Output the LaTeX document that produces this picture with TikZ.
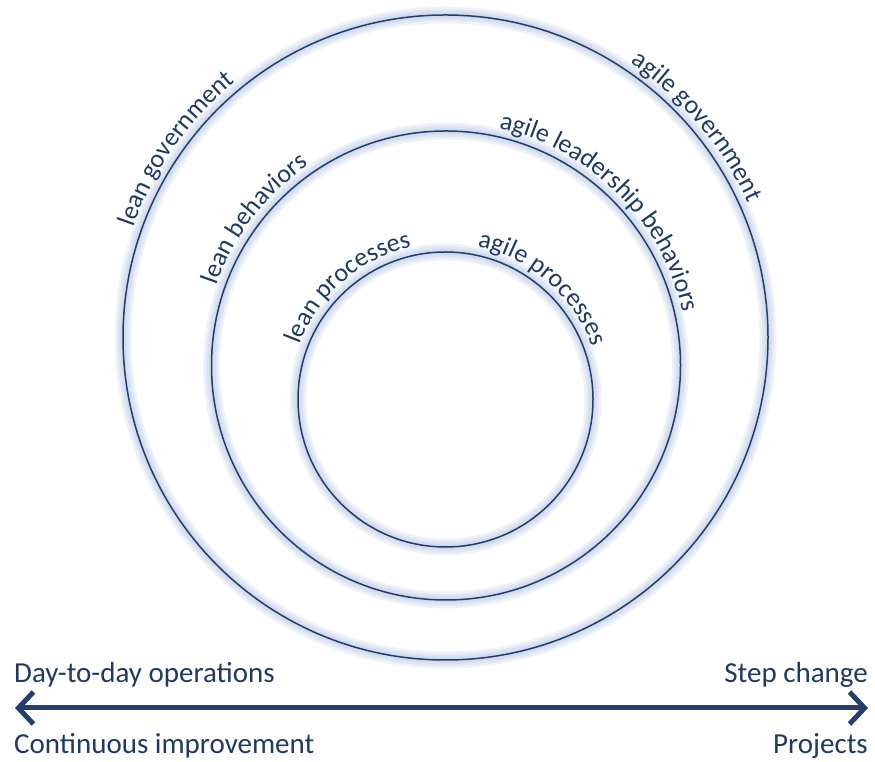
\documentclass[tikz,border=0pt]{standalone}
\usepackage{fontspec}
\setmainfont{Carlito}
\usetikzlibrary{decorations.text,arrows.meta}
\definecolor{ringblue}{RGB}{36,62,110}
\definecolor{textblue}{RGB}{31,56,100}
\definecolor{glowblue}{RGB}{165,186,220}
\newcommand\arcfont{\fontsize{26}{31}\selectfont}
\tikzset{
  ring/.style={draw=ringblue, line width=1.5pt},
  glow/.style={draw=glowblue, line width=#1, opacity=0.18},
  ringlabel/.style={decorate, decoration={text along path, text align=center,
      text color=textblue, text={|\arcfont|#1}}},
  sidelabel/.style={text=textblue, font=\fontsize{29}{34}\selectfont, inner sep=0pt},
}
\begin{document}
\begin{tikzpicture}[x=1pt,y=1pt]
  \useasboundingbox (0,0) rectangle (875,762);

  % Circle centres
  \coordinate (outerc) at (445.5,424.5);
  \coordinate (middlec) at (446,396.5);
  \coordinate (innerc) at (445.5,362.5);

  % Soft glow round the rings
  \foreach \w in {17pt,12pt,8pt,4pt} {
    \draw[glow=\w] (outerc) circle (322.5);
    \draw[glow=\w] (middlec) circle (234.5);
    \draw[glow=\w] (innerc) circle (147.5);
  }

  % Rings
  \draw[ring] (outerc) circle (322.5);
  \draw[ring] (middlec) circle (234.5);
  \draw[ring] (innerc) circle (147.5);

  % Labels along the rings
  \path[ringlabel={lean government}] (outerc) ++(190:331) arc[start angle=190, end angle=100, radius=331];
  \path[ringlabel={agile government}] (outerc) ++(85:331) arc[start angle=85, end angle=-5, radius=331];
  \path[ringlabel={lean behaviors}] (middlec) ++(190:243) arc[start angle=190, end angle=95, radius=243];
  \path[ringlabel={agile leadership behaviors}] (middlec) ++(100:243) arc[start angle=100, end angle=-10, radius=243];
  \path[ringlabel={lean processes}] (innerc) ++(185:156) arc[start angle=185, end angle=77, radius=156];
  \path[ringlabel={agile processes}] (innerc) ++(103:156) arc[start angle=103, end angle=-5, radius=156];

  % Axis labels
  \node[sidelabel, anchor=base west] (dayops) at (14,79) {Day-to-day operations};
  \node[sidelabel, anchor=base east] (stepchg) at (868,79) {Step change};
  \node[sidelabel, anchor=base west] (contimp) at (14,8) {Continuous improvement};
  \node[sidelabel, anchor=base east] (projects) at (868,8) {Projects};

  % Double arrow
  \coordinate (axisl) at (15,54);
  \coordinate (axisr) at (868,54);
  \draw[draw=ringblue, line width=5pt,
    {Straight Barb[length=15pt,width=32pt]}-{Straight Barb[length=15pt,width=32pt]}]
    (axisl) -- (axisr);
\end{tikzpicture}
\end{document}
